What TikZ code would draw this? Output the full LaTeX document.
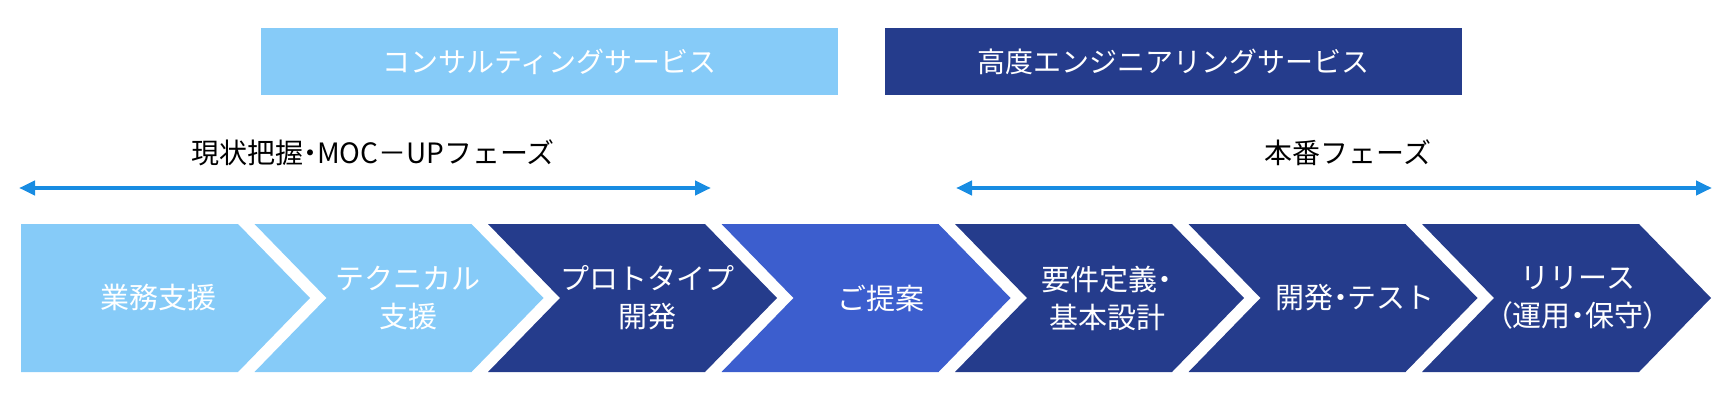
\documentclass[tikz,border=0pt]{standalone}
\usepackage{fontspec}
\setmainfont{Noto Sans CJK JP}
\usetikzlibrary{arrows.meta}
\definecolor{lightbl}{RGB}{134,203,248}
\definecolor{navy}{RGB}{37,60,140}
\definecolor{midbl}{RGB}{60,94,206}
\definecolor{arrbl}{RGB}{24,140,226}
\newcommand{\pp}[1]{{\addfontfeatures{RawFeature=+palt}#1}}
\tikzset{
  svcbox/.style={rectangle, inner sep=0pt, minimum width=577pt, minimum height=67pt, text=white, font=\fontsize{28}{34}\selectfont},
  phaselbl/.style={inner sep=0pt, text=black, font=\fontsize{28}{34}\selectfont},
  chevtxt/.style={inner sep=0pt, text=white, align=center, font=\fontsize{29}{38}\selectfont},
  phasearrow/.style={draw=arrbl, line width=4.2pt, {Triangle[length=16pt,width=14pt]}-{Triangle[length=16pt,width=14pt]}}
}
\newcommand{\firstchev}[2]{\fill[#2] (#1,224) -- ++(217,0) -- ++(72,74) -- ++(-72,74) -- ++(-217,0) -- cycle;}
\newcommand{\chev}[2]{\fill[#2] (#1,224) -- ++(217,0) -- ++(72,74) -- ++(-72,74) -- ++(-217,0) -- ++(72,-74) -- cycle;}
\begin{document}
\begin{tikzpicture}[x=1pt,y=-1pt]
\useasboundingbox (0,0) rectangle (1730,393);
% service boxes
\node[svcbox, fill=lightbl] (consult) at (549.5,61.5) {コンサルティングサービス};
\node[svcbox, fill=navy] (advanced) at (1173,61.5) {高度エンジニアリングサービス};
% phase labels
\node[phaselbl] (phase1) at (373,153) {現状把握\pp{・}MOC－UPフェーズ};
\node[phaselbl] (phase2) at (1348,153) {本番フェーズ};
% phase arrows
\coordinate (a1l) at (19,188);
\coordinate (a1r) at (711,188);
\coordinate (a2l) at (956,188);
\coordinate (a2r) at (1712,188);
\draw[phasearrow] (a1l) -- (a1r);
\draw[phasearrow] (a2l) -- (a2r);
% chevrons
\firstchev{21}{lightbl}
\chev{254.5}{lightbl}
\chev{488}{navy}
\chev{721.5}{midbl}
\chev{955}{navy}
\chev{1188.5}{navy}
\chev{1422}{navy}
% chevron texts
\node[chevtxt] (c1) at (158,298) {業務支援};
\node[chevtxt] (c2) at (408,298) {テクニカル\\支援};
\node[chevtxt] (c3) at (647,298) {プロトタイプ\\開発};
\node[chevtxt] (c4) at (881,298) {ご提案};
\node[chevtxt] (c5) at (1107,298) {要件定義\pp{・}\\基本設計};
\node[chevtxt] (c6) at (1355,298) {開発\pp{・}テスト};
\node[chevtxt] (c7) at (1578,298) {リリース\\\pp{（}運用\pp{・}保守\pp{）}};
\end{tikzpicture}
\end{document}
